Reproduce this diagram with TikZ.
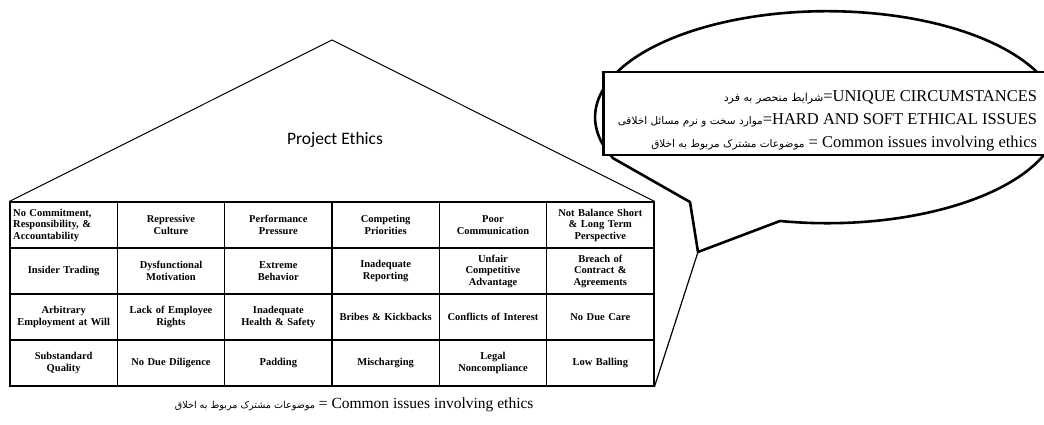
\documentclass[tikz,border=0pt]{standalone}
\usepackage{fontspec}
\setmainfont{Liberation Serif}
\newfontfamily\headfont{Carlito}
\newfontfamily\farsifont[Script=Arabic]{DejaVu Sans}
\TeXXeTstate=1
\usetikzlibrary{calc}
\usetikzlibrary{positioning}

\begin{document}
\begin{tikzpicture}[x=1pt, y=1pt]
    \tikzstyle{issue}=[draw, line width=1.1pt, minimum width=107.33pt,
                      minimum height=46pt, inner sep=2pt, align=center,
                      text width=101pt, font=\bfseries\fontsize{10.5}{11.5}\selectfont]
    \tikzstyle{legend}=[draw, line width=2.6pt, fill=white, minimum width=446pt,
                      minimum height=83pt]
    \tikzstyle{bubble}=[draw, line width=2.6pt, line join=round]
    \useasboundingbox (0,0) rectangle (1044,425);
    % Place the issue cells
    \node[issue, align=left] (c11) at (63.67,200) {No Commitment,\\ Responsibility, \&\\ Accountability};
    \foreach \row/\col/\txt in {
        1/2/{Repressive\\ Culture}, 1/3/{Performance\\ Pressure},
        1/4/{Competing\\ Priorities}, 1/5/{Poor\\ Communication},
        1/6/{Not Balance Short\\ \& Long Term\\ Perspective},
        2/1/{Insider Trading}, 2/2/{Dysfunctional\\ Motivation},
        2/3/{Extreme\\ Behavior}, 2/4/{Inadequate\\ Reporting},
        2/5/{Unfair\\ Competitive\\ Advantage}, 2/6/{Breach of\\ Contract \&\\ Agreements},
        3/1/{Arbitrary\\ Employment at Will}, 3/2/{Lack of Employee\\ Rights},
        3/3/{Inadequate\\ Health \& Safety}, 3/4/{Bribes \& Kickbacks},
        3/5/{Conflicts of Interest}, 3/6/{No Due Care},
        4/1/{Substandard\\ Quality}, 4/2/{No Due Diligence}, 4/3/{Padding},
        4/4/{Mischarging}, 4/5/{Legal\\ Noncompliance}, 4/6/{Low Balling}}
        \node[issue] (c\row\col) at ({10+107.33*(\col-0.5)}, {223-46*(\row-0.5)}) {\txt};
    % Roof
    \coordinate (apex) at (332,385);
    \draw[line width=1pt] (c11.north west) -- (apex) -- (c16.north east);
    \node[font=\headfont\fontsize{17.5}{20}\selectfont] (title) at (335,285) {Project Ethics};
    % Speech bubble
    \coordinate (tip) at (698,173);
    \coordinate (join) at (780,204);
    \coordinate (bend) at (690,223);
    \path[bubble] (tip) -- (join)
        arc[start angle=258.3, end angle=562.8, x radius=232, y radius=106]
        -- (bend) -- cycle;
    \draw[line width=1.2pt] (tip) -- (c46.south east);
    \node[legend, anchor=west] (key) at (602,311.5) {};
    \node[anchor=east, align=right, font=\fontsize{16.5}{23}\selectfont] (keytext)
        at ([xshift=-10pt, yshift=-7pt]key.east) {%
        {\farsifont\fontsize{11}{11}\selectfont\beginR شرایط منحصر به فرد\endR}=UNIQUE CIRCUMSTANCES\\
        {\farsifont\fontsize{10.5}{10.5}\selectfont\beginR موارد سخت و نرم مسائل اخلاقی\endR}=HARD AND SOFT ETHICAL ISSUES\\
        {\farsifont\fontsize{10.5}{10.5}\selectfont\beginR موضوعات مشترک مربوط به اخلاق\endR} = Common issues involving ethics};
    % Caption
    \node[anchor=east, font=\fontsize{15.5}{18}\selectfont] (caption) at (537,20)
        {{\farsifont\fontsize{9.6}{9.6}\selectfont\beginR موضوعات مشترک مربوط به اخلاق\endR} = Common issues involving ethics};
\end{tikzpicture}
\end{document}
